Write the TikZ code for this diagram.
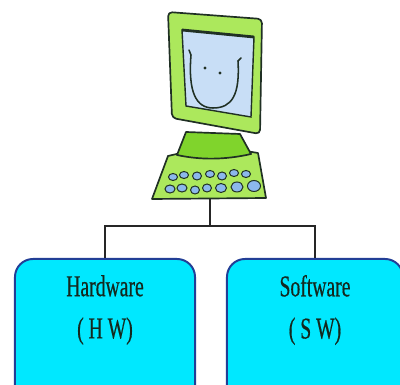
\documentclass[tikz,border=0pt]{standalone}
\usepackage{fontspec}
\setmainfont{Liberation Serif}
\newfontface\boxfont[FakeBold=0.6]{Liberation Serif}
\usepackage{tikz}
\usetikzlibrary{calc}
\definecolor{pcgreen}{RGB}{172,232,92}
\definecolor{pcdark}{RGB}{128,212,44}
\definecolor{pcline}{RGB}{32,48,36}
\definecolor{screenblue}{RGB}{200,222,246}
\definecolor{keyblue}{RGB}{140,184,236}
\definecolor{boxcyan}{RGB}{0,232,255}
\definecolor{boxblue}{RGB}{34,62,150}
\definecolor{textdark}{RGB}{20,40,30}
\tikzstyle{link} = [line width=2.1pt,color=black!85]
\newcommand{\narrowtxt}[1]{\scalebox{0.65}[1]{#1}}

\begin{document}
\begin{tikzpicture}
[x=0.025cm, y=-0.025cm,
partbox/.style={rectangle,rounded corners=0.45cm,draw=boxblue,line width=1.4pt,fill=boxcyan,minimum height=3.6cm,anchor=north},
parttext/.style={align=center,font=\boxfont\fontsize{21.5}{30}\selectfont,text=textdark},
pcpart/.style={draw=pcline,line width=1.2pt,line join=round,fill=pcgreen},
keycap/.style={draw=pcline,line width=0.7pt,fill=keyblue}]
\useasboundingbox (0,0) rectangle (400,385);
\clip (0,0) rectangle (400,385);

% keyboard tray and neck
\draw[pcpart] (168,156) .. controls (200,148) and (230,148) .. (258,153) -- (266,198) -- (152,199) -- cycle;
\draw[pcpart,fill=pcdark] (186,132) -- (240,134) -- (251,154) .. controls (225,160) and (200,160) .. (177,155) -- cycle;
% keys
\draw[keycap] (173,177) ellipse (4.5 and 3.5);
\draw[keycap] (184,175) ellipse (4.5 and 3.5);
\draw[keycap] (197,176) ellipse (4.5 and 4);
\draw[keycap] (210,174) ellipse (4.5 and 3.5);
\draw[keycap] (222,176) ellipse (4.5 and 4);
\draw[keycap] (234,173) ellipse (4.5 and 3.5);
\draw[keycap] (246,174) ellipse (4.5 and 3.5);
\draw[keycap] (170,189) ellipse (5 and 4);
\draw[keycap] (182,188) ellipse (5 and 4);
\draw[keycap] (195,190) ellipse (4.5 and 4);
\draw[keycap] (207,188) ellipse (4.5 and 4);
\draw[keycap] (221,188) ellipse (5.5 and 4.5);
\draw[keycap] (237,187) ellipse (6 and 5);
\draw[keycap] (254,186) ellipse (6.5 and 5.5);

% monitor with smiling screen
\draw[pcpart,rounded corners=3pt] (168,12) -- (262,19) -- (260,134) -- (172,118) -- cycle;
\draw[draw=pcline,line width=1pt,fill=screenblue] (182,30) -- (254,37) -- (251,117) -- (186,106) -- cycle;
\draw[pcline,line width=2pt] (182,30) -- (254,37);
\draw[pcline,line width=1.1pt,line cap=round] (189,50) -- (191,55) .. controls (188,92) and (196,108) .. (213,108) .. controls (232,108) and (240,95) .. (238,61) -- (241,58);
\fill[pcline] (205,68) circle (1.6);
\fill[pcline] (220,73) circle (1.6);
\coordinate (pcbase) at (210,199);

% the two parts
\node[partbox,minimum width=4.5cm] (hw) at (105,258) {};
\node[partbox,minimum width=4.4cm] (sw) at (315,258) {};
\node[parttext] (hwtext) at (105,310) {\narrowtxt{Hardware}\\\narrowtxt{( H W)}};
\node[parttext] (swtext) at (315,310) {\narrowtxt{Software}\\\narrowtxt{( S W)}};

\coordinate (split) at (210,226);
\draw[link] (pcbase) -- (split);
\draw[link] (hw.north) |- (split) -| (sw.north);
\end{tikzpicture}
\end{document}
